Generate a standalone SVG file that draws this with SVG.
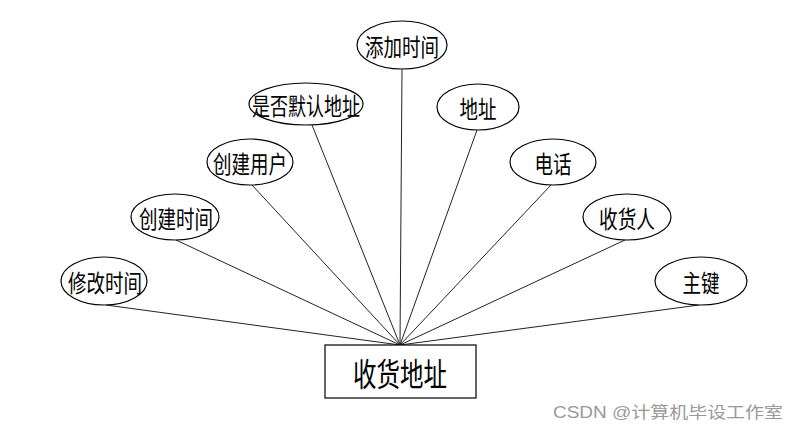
<svg xmlns="http://www.w3.org/2000/svg" width="800" height="430" viewBox="0 0 800 430">
<style>
.e{fill:#fff;stroke:#000;stroke-width:1.2}
.t{font-family:"Noto Sans CJK SC","Liberation Sans",sans-serif;font-size:24px;fill:#000;text-anchor:middle;dominant-baseline:central}
.c line{stroke:#222;stroke-width:1}
.w{font-family:"Liberation Sans","Noto Sans CJK SC",sans-serif;font-size:16px;fill:#999}
</style>
<rect width="800" height="430" fill="#fff"/>
<g class="c" id="connectors">
<line x1="106" y1="305" x2="400" y2="345"/>
<line x1="176" y1="240" x2="400" y2="345"/>
<line x1="252" y1="185" x2="400" y2="345"/>
<line x1="312" y1="125" x2="400" y2="345"/>
<line x1="402" y1="69" x2="400" y2="345"/>
<line x1="477" y1="130" x2="400" y2="345"/>
<line x1="551" y1="185" x2="400" y2="345"/>
<line x1="625" y1="240" x2="400" y2="345"/>
<line x1="699" y1="305" x2="400" y2="345"/>
</g>
<g id="n_xiugaishijian"><ellipse class="e" cx="104" cy="281" rx="43" ry="24"/><text class="t" x="105" y="281" textLength="74" lengthAdjust="spacingAndGlyphs">修改时间</text></g>
<g id="n_chuangjianshijian"><ellipse class="e" cx="175" cy="217" rx="44" ry="23"/><text class="t" x="176" y="217" textLength="74" lengthAdjust="spacingAndGlyphs">创建时间</text></g>
<g id="n_chuangjianyonghu"><ellipse class="e" cx="250" cy="162" rx="43" ry="23"/><text class="t" x="250" y="162" textLength="74" lengthAdjust="spacingAndGlyphs">创建用户</text></g>
<g id="n_shifoumoren"><ellipse class="e" cx="306" cy="104" rx="57" ry="21"/><text class="t" x="306" y="104" textLength="108" lengthAdjust="spacingAndGlyphs">是否默认地址</text></g>
<g id="n_tianjiashijian"><ellipse class="e" cx="402" cy="45" rx="45" ry="24"/><text class="t" x="402" y="45" textLength="74" lengthAdjust="spacingAndGlyphs">添加时间</text></g>
<g id="n_dizhi"><ellipse class="e" cx="478" cy="107" rx="41" ry="23"/><text class="t" x="478" y="107" textLength="37" lengthAdjust="spacingAndGlyphs">地址</text></g>
<g id="n_dianhua"><ellipse class="e" cx="553" cy="162" rx="43" ry="23"/><text class="t" x="553" y="162" textLength="37" lengthAdjust="spacingAndGlyphs">电话</text></g>
<g id="n_shouhuoren"><ellipse class="e" cx="627" cy="217" rx="44" ry="23"/><text class="t" x="627" y="217" textLength="56" lengthAdjust="spacingAndGlyphs">收货人</text></g>
<g id="n_zhujian"><ellipse class="e" cx="701" cy="281" rx="46" ry="24"/><text class="t" x="701" y="281" textLength="37" lengthAdjust="spacingAndGlyphs">主键</text></g>
<g id="n_shouhuodizhi"><rect x="325" y="345" width="151" height="53" fill="#fff" stroke="#000" stroke-width="1.2"/><text class="t" x="400" y="372" style="font-size:32px" textLength="94" lengthAdjust="spacingAndGlyphs">收货地址</text></g>
<text class="w" x="553" y="418" textLength="230" lengthAdjust="spacingAndGlyphs">CSDN @计算机毕设工作室</text>
</svg>
